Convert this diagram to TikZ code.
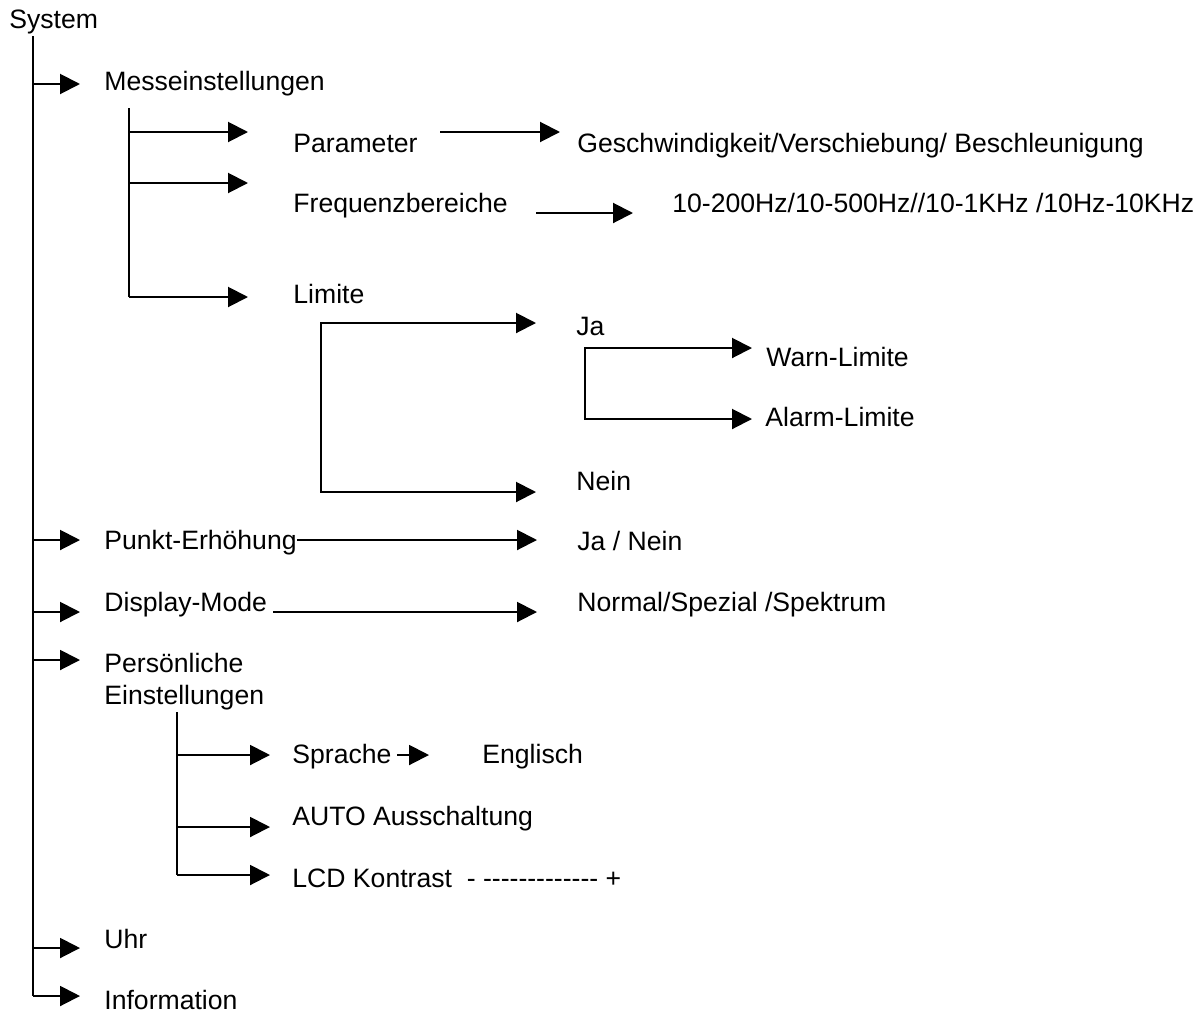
\documentclass[tikz,border=0pt]{standalone}
\usepackage{fontspec}
\setmainfont{Liberation Sans}
\usetikzlibrary{arrows.meta}
\newcommand\hyph{-\kern0pt}
\begin{document}
\begin{tikzpicture}[x=0.5pt,y=-0.5pt,
  lbl/.style={anchor=base west, inner sep=0pt, font=\fontsize{13.3}{16}\selectfont},
  ln/.style={line width=1pt},
  conn/.style={line width=1pt, -{Triangle[length=10pt,width=10pt]}},
  both/.style={line width=1pt, {Triangle[length=10pt,width=10pt]}-{Triangle[length=10pt,width=10pt]}}]
\useasboundingbox (0,0) rectangle (1202,1012);

% text nodes
\node[lbl] (sys)   at (9,28)    {System};
\node[lbl] (mes)   at (104,90)  {Messeinstellungen};
\node[lbl] (par)   at (293,152) {Parameter};
\node[lbl] (ges)   at (577,152) {Geschwindigkeit/Verschiebung/ Beschleunigung};
\node[lbl] (freq)  at (293,212) {Frequenzbereiche};
\node[lbl] (hz)    at (672,212) {10-200Hz/10-500Hz//10-1KHz /10Hz-10KHz};
\node[lbl] (lim)   at (293,303) {Limite};
\node[lbl] (ja)    at (576,335) {Ja};
\node[lbl] (warn)  at (766,366) {Warn-Limite};
\node[lbl] (alarm) at (765,426) {Alarm-Limite};
\node[lbl] (nein)  at (576,490) {Nein};
\node[lbl] (punkt) at (104,549) {Punkt-Erhöhung};
\node[lbl] (jn)    at (577,550) {Ja / Nein};
\node[lbl] (disp)  at (104,611) {Display-Mode};
\node[lbl] (norm)  at (577,611) {Normal/Spezial /Spektrum};
\node[lbl] (persA) at (104,672) {Persönliche};
\node[lbl] (persB) at (104,704) {Einstellungen};
\node[lbl] (spr)   at (292,763) {Sprache};
\node[lbl] (engl)  at (482,763) {Englisch};
\node[lbl] (auto)  at (292,825) {AUTO Ausschaltung};
\node[lbl] (lcd)   at (292,887) {LCD Kontrast\ \ - \hyph\hyph\hyph\hyph\hyph\hyph\hyph\hyph\hyph\hyph\hyph\hyph\hyph\ +};
\node[lbl] (uhr)   at (104,948) {Uhr};
\node[lbl] (info)  at (104,1009) {Information};

% main trunk
\coordinate (T) at (33,36);
\coordinate (tMes)   at (80,84);
\coordinate (tPunkt) at (80,540);
\coordinate (tDisp)  at (80,612);
\coordinate (tPers)  at (80,660);
\coordinate (tUhr)   at (80,948);
\coordinate (tInfo)  at (80,996);
\draw[ln] (T) -- (T |- tInfo);
\foreach \t in {tMes,tPunkt,tDisp,tPers,tUhr,tInfo}
  \draw[conn] (T |- \t) -- (\t);

% Messeinstellungen sub-trunk
\coordinate (S) at (129,108);
\coordinate (tPar)  at (248,132);
\coordinate (tFreq) at (248,183);
\coordinate (tLim)  at (248,297);
\draw[ln] (S) -- (S |- tLim);
\foreach \t in {tPar,tFreq,tLim}
  \draw[conn] (S |- \t) -- (\t);

% Parameter -> values
\coordinate (pS) at (440,132);
\coordinate (pT) at (560,132);
\draw[conn] (pS) -- (pT);
% Frequenz -> values
\coordinate (fS) at (536,213);
\coordinate (fT) at (633,213);
\draw[conn] (fS) -- (fT);

% Limite bracket
\coordinate (L) at (321,323);
\coordinate (tJa)   at (536,323);
\coordinate (tNein) at (536,492);
\draw[both] (tJa) -- (L) -- (L |- tNein) -- (tNein);

% Ja bracket
\coordinate (J) at (585,348);
\coordinate (tWarn)  at (752,348);
\coordinate (tAlarm) at (752,419);
\draw[both] (tWarn) -- (J) -- (J |- tAlarm) -- (tAlarm);

% Punkt-Erhoehung -> Ja / Nein
\coordinate (jnT) at (537,540);
\draw[conn] (punkt.east |- jnT) -- (jnT);
% Display-Mode -> Normal
\coordinate (dS) at (273,612);
\coordinate (dT) at (537,612);
\draw[conn] (dS) -- (dT);

% Persoenliche sub-trunk
\coordinate (P) at (177,712);
\coordinate (tSpr)  at (270,755);
\coordinate (tAuto) at (270,827);
\coordinate (tLCD)  at (270,875);
\draw[ln] (P) -- (P |- tLCD);
\foreach \t in {tSpr,tAuto,tLCD}
  \draw[conn] (P |- \t) -- (\t);

% Sprache -> Englisch
\coordinate (sS) at (397,755);
\coordinate (sT) at (429,755);
\draw[conn] (sS) -- (sT);
\end{tikzpicture}
\end{document}
